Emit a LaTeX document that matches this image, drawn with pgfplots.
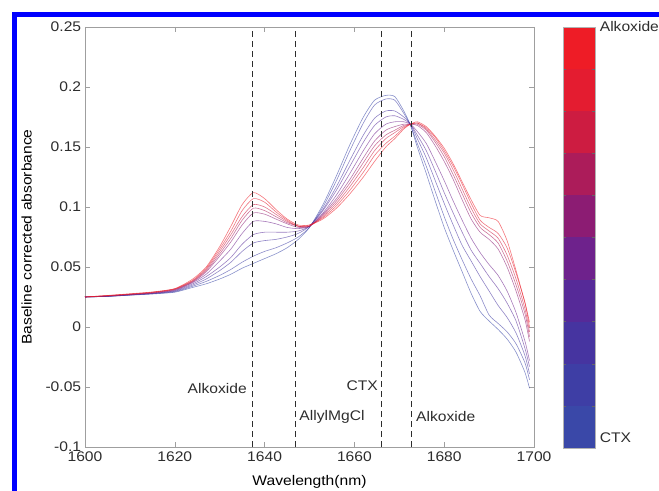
\documentclass[border=0pt]{standalone}
\usepackage{pgfplots}
\pgfplotsset{compat=1.18}
\usepackage{pgfplotstable}
\usepackage{fontspec}
\setmainfont{Liberation Sans}[FakeStretch=1.12]

\definecolor{b0}{RGB}{58,72,168}
\definecolor{b1}{RGB}{62,62,165}
\definecolor{b2}{RGB}{70,52,160}
\definecolor{b3}{RGB}{86,42,152}
\definecolor{b4}{RGB}{110,34,140}
\definecolor{b5}{RGB}{140,28,115}
\definecolor{b6}{RGB}{172,28,90}
\definecolor{b7}{RGB}{205,28,65}
\definecolor{b8}{RGB}{228,28,48}
\definecolor{b9}{RGB}{238,28,38}
\definecolor{txt}{RGB}{45,45,45}

\pgfplotstableread{
x c0 c1 c2 c3 c4 c5 c6 c7 c8 c9
1600 0.025 0.025 0.025 0.025 0.025 0.025 0.025 0.025 0.025 0.025
1605 0.0255 0.0255 0.0256 0.0256 0.0257 0.0258 0.026 0.026 0.0262 0.0263
1610 0.0265 0.0266 0.0267 0.0268 0.027 0.0271 0.0272 0.0273 0.0275 0.0277
1615 0.0275 0.0277 0.0279 0.028 0.0282 0.0284 0.0286 0.0288 0.029 0.0292
1620 0.029 0.0294 0.0298 0.0302 0.0306 0.031 0.0313 0.0316 0.0318 0.032
1624 0.033 0.034 0.035 0.036 0.037 0.0375 0.038 0.0385 0.039 0.040
1627 0.036 0.038 0.040 0.042 0.044 0.046 0.047 0.048 0.049 0.050
1630 0.040 0.043 0.047 0.050 0.055 0.059 0.061 0.063 0.065 0.067
1632.5 0.044 0.048 0.054 0.058 0.065 0.071 0.074 0.077 0.080 0.084
1635 0.049 0.054 0.063 0.069 0.078 0.085 0.089 0.092 0.097 0.102
1637.5 0.053 0.059 0.070 0.077 0.088 0.095 0.099 0.102 0.107 0.112
1640 0.057 0.063 0.072 0.079 0.088 0.094 0.097 0.100 0.104 0.107
1642.5 0.061 0.066 0.073 0.079 0.086 0.090 0.092 0.094 0.096 0.098
1645 0.066 0.070 0.075 0.079 0.083 0.086 0.087 0.088 0.089 0.090
1647.5 0.073 0.075 0.078 0.080 0.082 0.083 0.084 0.084 0.084 0.085
1650 0.083 0.083 0.084 0.084 0.084 0.084 0.084 0.084 0.085 0.085
1653 0.102 0.100 0.098 0.097 0.095 0.094 0.093 0.092 0.091 0.090
1656 0.126 0.122 0.117 0.114 0.110 0.107 0.105 0.103 0.101 0.099
1659 0.152 0.147 0.139 0.134 0.128 0.123 0.120 0.117 0.114 0.111
1662 0.175 0.170 0.160 0.154 0.147 0.141 0.137 0.133 0.129 0.125
1664.5 0.189 0.185 0.174 0.168 0.161 0.155 0.151 0.147 0.143 0.138
1667 0.193 0.190 0.180 0.175 0.169 0.164 0.160 0.157 0.153 0.150
1669 0.192 0.189 0.180 0.176 0.171 0.167 0.164 0.162 0.159 0.157
1671 0.180 0.178 0.175 0.173 0.171 0.169 0.168 0.167 0.166 0.165
1672.5 0.168 0.168 0.169 0.169 0.169 0.169 0.169 0.169 0.169 0.169
1674 0.150 0.153 0.157 0.160 0.163 0.168 0.169 0.170 0.170 0.171
1676 0.128 0.134 0.141 0.147 0.153 0.162 0.164 0.165 0.166 0.167
1678 0.105 0.113 0.122 0.130 0.138 0.151 0.154 0.156 0.158 0.159
1680 0.083 0.092 0.103 0.112 0.122 0.138 0.142 0.145 0.147 0.149
1682 0.064 0.073 0.085 0.095 0.105 0.123 0.127 0.131 0.134 0.136
1684 0.046 0.056 0.068 0.079 0.089 0.106 0.111 0.115 0.119 0.121
1686 0.028 0.040 0.055 0.064 0.074 0.090 0.095 0.099 0.103 0.106
1688 0.013 0.026 0.042 0.053 0.062 0.079 0.083 0.086 0.089 0.093
1690 0.005 0.010 0.030 0.042 0.052 0.073 0.077 0.080 0.083 0.091
1692 -0.002 0.003 0.018 0.032 0.043 0.065 0.070 0.074 0.078 0.088
1694 -0.010 -0.004 0.008 0.020 0.030 0.050 0.055 0.060 0.066 0.072
1696 -0.021 -0.014 -0.005 0.005 0.012 0.030 0.035 0.040 0.045 0.047
1698 -0.038 -0.030 -0.024 -0.018 -0.012 0.006 0.011 0.015 0.020 0.020
1699 -0.051 -0.044 -0.039 -0.033 -0.028 -0.012 -0.008 -0.004 0.000 0.004
}\spectra

\begin{document}
\fontsize{14}{16}\selectfont
\begin{tikzpicture}
\path[use as bounding box] (0bp,0bp) rectangle (659bp,491bp);
\fill[blue] (12bp,0bp) rectangle (17bp,479bp);
\fill[blue] (12bp,474bp) rectangle (659bp,479bp);

\begin{axis}[
  at={(85bp,44bp)}, anchor=south west, scale only axis,
  width=449bp, height=420bp,
  xmin=1600, xmax=1700, ymin=-0.1, ymax=0.25,
  xtick={1600,1620,1640,1660,1680,1700},
  xticklabels={1600,1620,1640,1660,1680,1700},
  ytick={-0.1,-0.05,0,0.05,0.1,0.15,0.2,0.25},
  yticklabels={-0.1,-0.05,0,0.05,0.1,0.15,0.2,0.25},
  tick align=inside, tick pos=both,
  major tick length=5bp,
  axis line style={gray!75},
  every tick/.style={gray!75},
  tick label style={text=txt},
  yticklabel style={xshift=1bp},
  label style={text=txt},
  xlabel={Wavelength(nm)},
  ylabel={Baseline corrected absorbance},
  every axis x label/.style={at={(axis description cs:0.5,-0.084)}, anchor=center},
  every axis y label/.style={at={(axis description cs:-0.13,0.5)}, rotate=90, anchor=center},
  clip=false,
]
\addplot[b0, line width=0.6pt, opacity=0.6, smooth, tension=0.4] table[x=x, y=c0] {\spectra};
\addplot[b1, line width=0.6pt, opacity=0.6, smooth, tension=0.4] table[x=x, y=c1] {\spectra};
\addplot[b2, line width=0.6pt, opacity=0.6, smooth, tension=0.4] table[x=x, y=c2] {\spectra};
\addplot[b3, line width=0.6pt, opacity=0.6, smooth, tension=0.4] table[x=x, y=c3] {\spectra};
\addplot[b4, line width=0.6pt, opacity=0.6, smooth, tension=0.4] table[x=x, y=c4] {\spectra};
\addplot[b5, line width=0.6pt, opacity=0.6, smooth, tension=0.4] table[x=x, y=c5] {\spectra};
\addplot[b6, line width=0.6pt, opacity=0.6, smooth, tension=0.4] table[x=x, y=c6] {\spectra};
\addplot[b7, line width=0.6pt, opacity=0.6, smooth, tension=0.4] table[x=x, y=c7] {\spectra};
\addplot[b8, line width=0.6pt, opacity=0.6, smooth, tension=0.4] table[x=x, y=c8] {\spectra};
\addplot[b9, line width=0.6pt, opacity=0.6, smooth, tension=0.4] table[x=x, y=c9] {\spectra};
\addplot[gray!35!black, line width=0.6pt, dash pattern=on 6bp off 4bp] coordinates {(1637.3,-0.1) (1637.3,0.247)};
\addplot[gray!35!black, line width=0.6pt, dash pattern=on 6bp off 4bp] coordinates {(1646.9,-0.1) (1646.9,0.247)};
\addplot[gray!35!black, line width=0.6pt, dash pattern=on 6bp off 4bp] coordinates {(1665.9,-0.1) (1665.9,0.247)};
\addplot[gray!35!black, line width=0.6pt, dash pattern=on 6bp off 4bp] coordinates {(1672.7,-0.1) (1672.7,0.247)};
\node[anchor=east, text=txt, inner sep=1bp] at (axis cs:1636.3,-0.051) {Alkoxide};
\node[anchor=west, text=txt, inner sep=1bp] at (axis cs:1647.5,-0.075) {AllylMgCl};
\node[anchor=east, text=txt, inner sep=1bp] at (axis cs:1665.5,-0.049) {CTX};
\node[anchor=west, text=txt, inner sep=1bp] at (axis cs:1673.5,-0.075) {Alkoxide};
\end{axis}

\begin{axis}[
  at={(563bp,43bp)}, anchor=south west, scale only axis,
  width=32bp, height=421bp,
  xmin=0, xmax=1, ymin=0, ymax=10,
  ybar stacked, bar width=32bp,
  axis on top,
  xtick=\empty,
  ytick={1,2,3,4,5,6,7,8,9}, yticklabels={},
  extra y ticks={0.25,10},
  extra y tick labels={CTX,Alkoxide},
  extra y tick style={major tick length=0pt},
  yticklabel pos=right, ytick pos=both,
  tick align=inside, major tick length=3bp,
  every tick/.style={black!60},
  tick label style={text=txt},
  axis line style={gray!60},
]
\addplot[fill=b0, draw=none] coordinates {(0.5,1)};
\addplot[fill=b1, draw=none] coordinates {(0.5,1)};
\addplot[fill=b2, draw=none] coordinates {(0.5,1)};
\addplot[fill=b3, draw=none] coordinates {(0.5,1)};
\addplot[fill=b4, draw=none] coordinates {(0.5,1)};
\addplot[fill=b5, draw=none] coordinates {(0.5,1)};
\addplot[fill=b6, draw=none] coordinates {(0.5,1)};
\addplot[fill=b7, draw=none] coordinates {(0.5,1)};
\addplot[fill=b8, draw=none] coordinates {(0.5,1)};
\addplot[fill=b9, draw=none] coordinates {(0.5,1)};
\end{axis}
\end{tikzpicture}
\end{document}
